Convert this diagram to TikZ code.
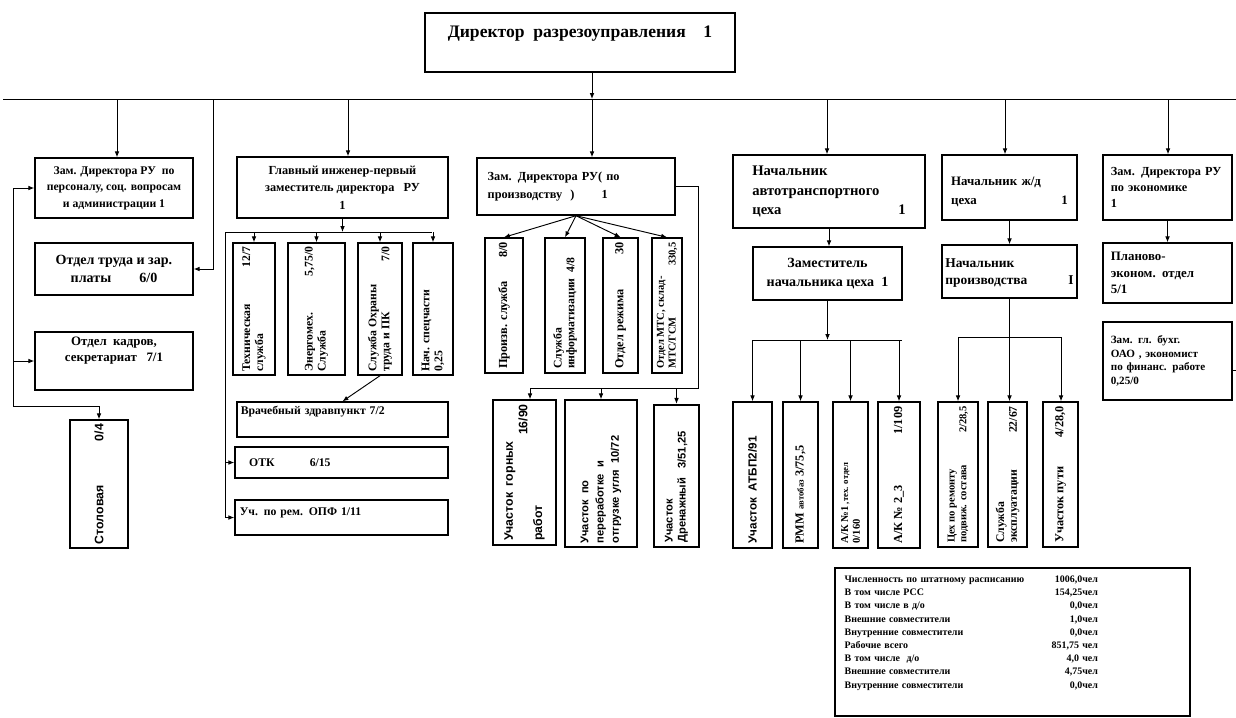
\documentclass[tikz,border=0pt]{standalone}
\usepackage{graphicx}
\usepackage{fontspec}
\setmainfont{Liberation Serif}
\newfontfamily\sansf{Liberation Sans}
\usetikzlibrary{arrows.meta}

% rotated label inside a box
\newcommand{\vlab}[2]{\rotatebox{90}{\parbox{#1}{#2}}}
\newcommand{\fv}{\fontsize{10}{11}\selectfont}
\newcommand{\fs}{\fontsize{9}{10}\selectfont}

\begin{document}
\begin{tikzpicture}[x=0.03cm, y=-0.03cm,
  >={Latex[length=5pt,width=4pt]},
  box/.style={draw, line width=1.2pt, inner sep=2pt, font=\bfseries},
  sz/.style 2 args={minimum width=#1*0.03cm, minimum height=#2*0.03cm},
  line/.style={line width=0.8pt}]

\useasboundingbox[fill=white] (0,0) rectangle (1236,717);

% Director
\node[box, sz={310}{59}, text depth=18pt, font=\bfseries\fontsize{15}{18}\selectfont] (dir) at (580,42.5) {Директор\ \ разрезоуправления\ \ \ \ 1};

% Left column
\node[box, sz={158}{60}, align=center, font=\bfseries\fontsize{10}{14}\selectfont] (zpers) at (114,188) {Зам. Директора РУ\ \ по\\персоналу, соц. вопросам\\и администрации 1};
\node[box, sz={158}{52}, align=center, font=\bfseries\fontsize{12}{15}\selectfont] (otrud) at (114,269) {Отдел труда и зар.\\платы\qquad 6/0};
\node[box, sz={158}{58}, align=center, text depth=20pt, font=\bfseries\fontsize{11}{14}\selectfont] (okadr) at (114,361) {Отдел\ \ кадров,\\секретариат\ \ \ 7/1};
\node[box, sz={58}{128}] (stol) at (99,484) {\vlab{3.6cm}{\sansf\fontsize{10.5}{12}\selectfont Столовая\hfill 0/4}};

% Chief engineer
\node[box, sz={211}{61}, align=center, font=\bfseries\fontsize{10.5}{15}\selectfont] (gi) at (342.5,187.5) {Главный инженер-первый\\заместитель директора\ \ \ РУ\\1};
\node[box, sz={42}{132}] (tech) at (254,309) {\vlab{3.75cm}{\fv Техническая\hfill 12/7\\служба}};
\node[box, sz={57}{132}] (energ) at (316.5,309) {\vlab{3.75cm}{\fv Энергомех.\hfill 5,75/0\\Служба}};
\node[box, sz={44}{132}] (ohr) at (380,309) {\vlab{3.75cm}{\fv Служба Охраны\\труда и ПК\hfill 7/0}};
\node[box, sz={40}{132}] (nach) at (433,309) {\vlab{3.75cm}{\fv Нач. спецчасти\\0,25}};
\node[box, sz={211}{35}, text width=6.1cm, align=left, text depth=15pt, font=\bfseries\fontsize{10}{12}\selectfont] (vrach) at (342.5,419.5) {Врачебный здравпункт 7/2};
\node[box, sz={213}{31}, text width=6.1cm, align=left, font=\bfseries\fontsize{10}{12}\selectfont] (otk) at (341.5,462.5) {\hspace*{0.8em}ОТК\hspace{3em}6/15};
\node[box, sz={213}{35}, text width=6.1cm, align=left, text depth=10pt, font=\bfseries\fontsize{10}{12}\selectfont] (ucrem) at (341.5,517.5) {Уч. по рем. ОПФ 1/11};

% Production deputy
\node[box, sz={198}{57}, text width=5.3cm, align=left, font=\bfseries\fontsize{10.5}{15}\selectfont] (zprod) at (576,186.5) {Зам. Директора РУ( по\\производству\ \ )\hspace{2.2em}1};
\node[box, sz={38}{135}] (pserv) at (504,305.5) {\vlab{3.8cm}{\fontsize{10.5}{11.5}\selectfont Произв. служба\hfill 8/0}};
\node[box, sz={40}{135}] (inf) at (565,305.5) {\vlab{3.8cm}{\fv Служба\\информатизации\ \ 4/8}};
\node[box, sz={35}{135}] (rezh) at (620.5,305.5) {\vlab{3.8cm}{\fontsize{10.5}{11.5}\selectfont Отдел режима\hfill 30}};
\node[box, sz={30}{135}] (mts) at (667,305.5) {\vlab{3.8cm}{\fs Отдел МТС, склад-\\МТС/ГСМ\hfill 330,5}};
\node[box, sz={63}{145}] (ugr) at (524.5,472.5) {\vlab{4.1cm}{\sansf\fontsize{10.5}{12.5}\selectfont Участок\ \ горных\\\mbox{}\hfill 16/90\\работ}};
\node[box, sz={72}{147}] (pere) at (601,473.5) {\vlab{4.2cm}{\sansf\fontsize{9.5}{13}\selectfont Участок\ \ по\\переработке\ \ и\\отгрузке угля\ \ 10/72}};
\node[box, line width=2pt, sz={45}{142}] (dren) at (676.5,476) {\vlab{4cm}{\sansf\fontsize{9.5}{11}\selectfont Участок\\Дренажный\ \ \ 3/51,25}};

% Motor transport shop
\node[box, sz={192}{73}, text width=4.6cm, align=left, font=\bfseries\fontsize{12.5}{17}\selectfont] (avto) at (829,191.5) {Начальник\\автотранспортного\\цеха\hfill 1};
\node[box, sz={149}{53}, align=center, font=\bfseries\fontsize{12}{16}\selectfont] (zam) at (827.5,273.5) {Заместитель\\начальника цеха\ \ 1};
\node[box, sz={39}{146}] (atbp) at (752.5,475) {\vlab{4.1cm}{\sansf\fontsize{10}{12}\selectfont Участок\ \ АТБП2/91}};
\node[box, sz={35}{146}] (rmm) at (800.5,475) {\vlab{4.1cm}{\fontsize{10.5}{12}\selectfont РММ {\fontsize{7.5}{8}\selectfont автобаз} 3/75,5}};
\node[box, sz={35}{146}] (ak1) at (850.5,475) {\vlab{4.1cm}{\fs А/К №1 {\fontsize{7.5}{8}\selectfont ,тех. отдел}\\0/160}};
\node[box, sz={42}{146}] (ak2) at (899,475) {\vlab{4.1cm}{\fontsize{10.5}{12}\selectfont А/К № 2\_3\hfill 1/109}};

% Railway shop
\node[box, sz={135}{65}, text width=3.5cm, align=left, text depth=11pt, font=\bfseries\fontsize{11}{16}\selectfont] (zhd) at (1009.5,187.5) {Начальник ж/д\\цеха\hfill 1};
\node[box, sz={135}{53}, text width=3.85cm, align=left, text depth=14pt, font=\bfseries\fontsize{11.5}{14.5}\selectfont] (nprod) at (1009.5,271.5) {Начальник\\производства\hfill I};
\node[box, sz={40}{145}] (crem) at (958,474.5) {\vlab{4.1cm}{\fs Цех по ремонту\\подвиж. состава\hfill 2/28,5}};
\node[box, sz={39}{145}] (sexp) at (1007.5,474.5) {\vlab{4.1cm}{\fv Служба\\эксплуатации\hfill 22/67}};
\node[box, sz={35}{145}] (upt) at (1060.5,474.5) {\vlab{4.1cm}{\fontsize{10.5}{11.5}\selectfont Участок пути\hfill 4/28,0}};

% Economics deputy
\node[box, sz={129}{65}, text width=3.4cm, align=left, font=\bfseries\fontsize{10.5}{14}\selectfont] (zecon) at (1167.5,187.5) {Зам. Директора РУ\\по экономике\\1};
\node[box, sz={129}{60}, text width=3.4cm, align=left, font=\bfseries\fontsize{11}{14}\selectfont] (plan) at (1167.5,273) {Планово-\\эконом. отдел\\5/1};
\node[box, sz={129}{78}, text width=3.4cm, align=left, font=\bfseries\fontsize{9.5}{11.5}\selectfont] (zbuh) at (1167.5,361) {Зам. гл. бухг.\\ОАО , экономист\\по финанс. работе\\0,25/0};

% Staff totals
\node[box, line width=1pt, sz={355}{148}] (stat) at (1012.5,642) {};
\node[anchor=north west, inner sep=0pt, text width=7.6cm, align=left, font=\bfseries\fontsize{8.5}{11.3}\selectfont] (stattxt) at ([shift={(10,8)}]stat.north west) {%
Численность по штатному расписанию\hfill 1006,0чел\\
В том числе РСС\hfill 154,25чел\\
В том числе в д/о\hfill 0,0чел\\
Внешние совместители\hfill 1,0чел\\
Внутренние совместители\hfill 0,0чел\\
Рабочие всего\hfill 851,75 чел\\
В том числе\ \ д/о\hfill 4,0 чел\\
Внешние совместители\hfill 4,75чел\\
Внутренние совместители\hfill 0,0чел};

% Main bus
\coordinate (busL) at (3,99);
\coordinate (busR) at (1236,99);
\coordinate (bdir) at (592,99);
\draw[line] (busL) -- (busR);
\draw[line,->] (dir.south -| bdir) -- (bdir);
\coordinate (bzpers) at (117,99);
\coordinate (bgi) at (348,99);
\coordinate (bzprod) at (592,99);
\coordinate (bavto) at (827,99);
\coordinate (bzhd) at (1005,99);
\coordinate (bzecon) at (1168,99);
\foreach \n in {zpers, gi, zprod, avto, zhd, zecon}
  \draw[line,->] (b\n) -- (b\n |- \n.north);
\coordinate (botrud) at (213,99);
\draw[line,->] (botrud) |- (otrud.east);

% Left loop
\coordinate (lb) at (13,406);
\draw[line,->] (zpers.west -| lb) -- (zpers.west);
\draw[line,->] (zpers.west -| lb) -- (lb) -| (stol.north);
\draw[line,->] (okadr.west -| lb) -- (okadr.west);

% Chief engineer links
\coordinate (gL) at (225,232);
\coordinate (gR) at (432,232);
\draw[line,->] (gi.south) -- (gi.south |- gL);
\draw[line] (gL) -- (gR);
\foreach \n in {tech, energ, ohr, nach}
  \draw[line,->] (\n.north |- gL) -- (\n.north);
\draw[line,->] (gL) |- (otk.west);
\draw[line,->] (gL) |- (ucrem.west);
\draw[line,->] (ohr.south) -- (vrach.north);

% Production links
\foreach \n in {pserv, inf, rezh, mts}
  \draw[line,->] (zprod.south) -- (\n.north);
\coordinate (pR) at (698,388);
\coordinate (pL) at (530,388);
\draw[line] (zprod.east) -| (pR) -- (pL);
\draw[line,->] (pL) -- (pL |- ugr.north);
\draw[line,->] (pere.north |- pL) -- (pere.north);
\draw[line,->] (dren.north |- pL) -- (dren.north);

% Motor transport links
\draw[line,->] (avto.south) -- (avto.south |- zam.north);
\coordinate (aL) at (752,340);
\coordinate (aR) at (902,340);
\draw[line,->] (zam.south) -- (zam.south |- aL);
\draw[line] (aL) -- (aR);
\foreach \n in {atbp, rmm, ak1, ak2}
  \draw[line,->] (\n.north |- aL) -- (\n.north);

% Railway links
\draw[line,->] (zhd.south) -- (nprod.north);
\coordinate (zL) at (958,337);
\coordinate (zR) at (1061,337);
\draw[line] (zL) -- (zR);
\draw[line,->] (nprod.south) -- (nprod.south |- sexp.north);
\draw[line,->] (zL) -- (zL |- crem.north);
\draw[line,->] (zR) -- (zR |- upt.north);

% Economics links
\draw[line,->] (zecon.south) -- (plan.north);
\coordinate (stub) at (1236,370);
\draw[line] (zbuh.east |- stub) -- (stub);

\end{tikzpicture}
\end{document}
